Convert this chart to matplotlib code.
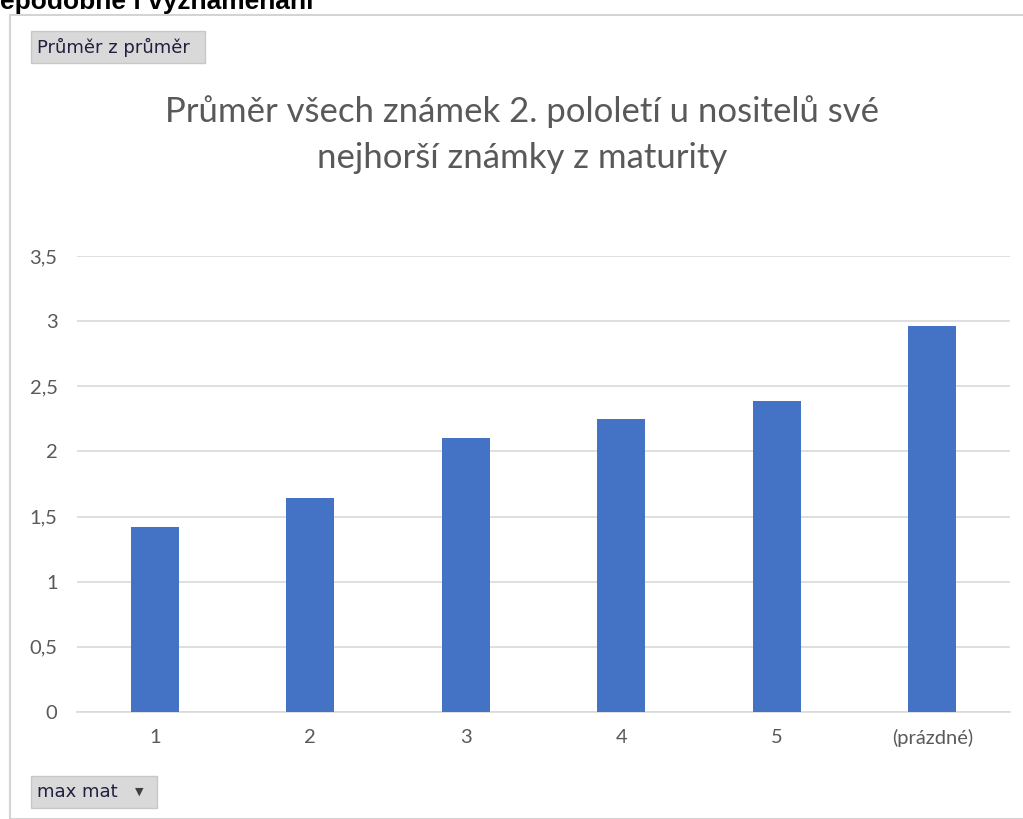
import matplotlib.pyplot as plt
from matplotlib.patches import FancyBboxPatch, Rectangle

# Pivot chart data: mean of grades by worst maturita grade
categories = ['1', '2', '3', '4', '5', '(prázdné)']
averages = [1.42, 1.64, 2.10, 2.25, 2.39, 2.96]
y_ticks = [0, 0.5, 1, 1.5, 2, 2.5, 3, 3.5]
y_tick_labels = ['0', '0,5', '1', '1,5', '2', '2,5', '3', '3,5']

W, H = 1023, 819
fig = plt.figure(figsize=(W / 100, H / 100), dpi=100)
plt.rcParams['font.family'] = ['Lato', 'DejaVu Sans']

def px(x, y):
    # pixel coords (from top-left) -> figure fraction
    return x / W, 1 - y / H

# heading of the page above the chart, cut off at the top
fig.text(*px(0, 9), 'epodobné i vyznamenáni', fontsize=19, fontweight='bold',
         family=['Liberation Sans', 'DejaVu Sans'], color='black', va='baseline')

# chart frame
fig.add_artist(Rectangle(px(10, 819), 1.2, (819 - 15) / H, transform=fig.transFigure,
                         facecolor='white', edgecolor='#d4d4d4', linewidth=1.5,
                         zorder=-1))

ax = fig.add_axes([77 / W, (H - 712) / H, (1010 - 77) / W, (712 - 256) / H])
x = range(len(categories))
ax.bar(x, averages, width=0.31, color='#4472C4', zorder=3)
ax.set_xlim(-0.5, len(categories) - 0.5)
ax.set_ylim(0, 3.5)
ax.set_yticks(y_ticks)
ax.set_yticklabels(y_tick_labels)
ax.set_xticks(list(x))
ax.set_xticklabels(categories)
ax.grid(axis='y', color='#d9d9d9', linewidth=1.2, zorder=0)
for side in ['top', 'right', 'left']:
    ax.spines[side].set_visible(False)
ax.spines['bottom'].set_color('#d9d9d9')
ax.spines['bottom'].set_linewidth(1.2)
ax.tick_params(length=0, labelsize=14.5, colors='#595959')
ax.tick_params(axis='x', pad=12)
ax.tick_params(axis='y', pad=14)
ax.set_facecolor('none')

fig.text(*px(522, 112), 'Průměr všech známek 2. pololetí u nositelů své',
         fontsize=25, color='#595959', ha='center', va='center')
fig.text(*px(522, 158), 'nejhorší známky z maturity',
         fontsize=25, color='#595959', ha='center', va='center')

# pivot field buttons
def button(x0, y0, x1, y1, label):
    fig.add_artist(FancyBboxPatch(px(x0, y1), (x1 - x0) / W, (y1 - y0) / H,
                                  boxstyle='square,pad=0', transform=fig.transFigure,
                                  facecolor='#d9d9d9', edgecolor='#c8c8c8', linewidth=1))
    fig.text(*px(x0 + 6, (y0 + y1) / 2), label, fontsize=13, color='#1f1f3f',
             va='center', family=['DejaVu Sans'])

button(31, 31, 205, 63, 'Průměr z průměr')
button(31, 776, 157, 808, 'max mat')
fig.text(*px(139, 792), '▼', fontsize=8, color='#404040', ha='center', va='center',
         family=['DejaVu Sans'])

fig.savefig('out.png', dpi=100)
